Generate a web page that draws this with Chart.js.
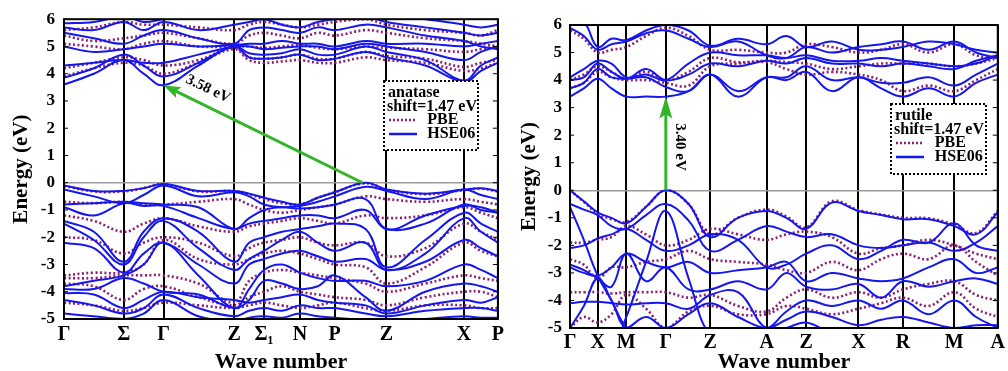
<!DOCTYPE html>
<html><head><meta charset="utf-8">
<script src="https://cdn.jsdelivr.net/npm/chart.js@4.4.1/dist/chart.umd.min.js"></script>
<style>
html,body{margin:0;padding:0;background:#fff;}
body{width:1008px;height:371px;overflow:hidden;position:relative;}
canvas{position:absolute;top:0;}
</style></head><body>
<canvas id="c1" width="508" height="371" style="left:0"></canvas>
<canvas id="c2" width="500" height="371" style="left:508px"></canvas>
<script>
// ---------------- Anatase ----------------
const anataseK = [0,30,60,80,100,135,171,186,201,219,237,255,272,303,324,363,402,419,436];
const anataseTickK = [0,60,100,171,201,237,272,324,402,436];
const anataseTickLabels = ['Γ','Σ','Γ','Z','Σ₁','N','P','Z','X','P'];
const anataseHSE = [
 [-0.10,-0.30,-0.30,-0.20,-0.05,-0.30,-0.30,-0.40,-0.55,-0.70,-0.80,-0.55,-0.35, 0.00,-0.25,-0.40,-0.25,-0.20,-0.30],
 [-0.25,-0.50,-0.75,-0.45,-0.10,-0.50,-0.35,-0.50,-0.80,-0.90,-0.85,-0.70,-0.50,-0.15,-0.30,-0.60,-0.25,-0.45,-0.60],
 [-0.80,-0.75,-0.70,-0.75,-0.80,-0.90,-1.70,-1.30,-1.00,-0.90,-0.95,-0.90,-0.80,-0.60,-1.70,-1.20,-0.85,-0.90,-1.10],
 [-0.90,-1.20,-0.75,-0.85,-0.85,-1.30,-1.70,-1.50,-1.40,-1.30,-1.20,-1.20,-1.30,-1.00,-1.70,-1.50,-0.80,-1.00,-1.10],
 [-1.40,-1.80,-2.90,-1.80,-1.30,-1.80,-2.90,-2.20,-2.00,-1.80,-1.70,-1.60,-1.50,-1.70,-3.10,-2.10,-1.10,-1.50,-1.80],
 [-1.50,-2.10,-3.00,-2.00,-1.40,-2.40,-3.20,-2.80,-2.50,-2.10,-1.80,-2.20,-2.50,-2.20,-3.20,-2.60,-1.30,-1.80,-2.20],
 [-2.20,-2.40,-3.30,-2.60,-2.20,-3.00,-3.70,-3.00,-2.80,-2.60,-2.50,-2.70,-2.90,-2.80,-3.20,-2.90,-2.10,-2.40,-2.70],
 [-3.80,-3.60,-3.40,-3.00,-2.20,-3.40,-4.60,-3.90,-3.20,-3.00,-3.30,-3.50,-3.60,-3.60,-3.80,-3.60,-3.00,-3.20,-3.50],
 [-3.90,-3.90,-3.50,-3.70,-4.00,-4.10,-4.60,-4.30,-3.60,-3.70,-3.90,-3.80,-3.40,-4.20,-4.70,-4.00,-3.70,-3.80,-4.00],
 [-4.05,-4.10,-4.60,-4.30,-4.00,-4.20,-4.30,-4.40,-4.30,-4.20,-4.10,-4.30,-4.40,-4.50,-4.80,-4.50,-4.30,-4.40,-4.20],
 [-4.30,-4.50,-4.80,-4.60,-4.10,-4.60,-4.90,-4.70,-4.60,-4.70,-4.50,-4.60,-4.60,-4.80,-4.90,-4.70,-4.60,-4.60,-4.70],
 [-4.80,-4.90,-5.00,-4.80,-4.30,-4.90,-5.10,-4.95,-4.90,-4.95,-4.80,-4.90,-4.95,-5.05,-5.10,-5.00,-4.90,-4.95,-4.95],
 [3.60,4.00,4.50,4.00,3.58,4.30,5.00,4.60,4.55,4.60,4.70,4.50,4.55,4.80,4.60,4.30,3.70,4.10,4.40],
 [3.85,4.20,4.70,4.30,3.90,4.40,5.00,4.75,4.70,4.75,4.90,4.70,4.70,5.00,4.80,4.50,3.75,4.30,4.60],
 [4.30,4.40,4.50,4.40,4.40,4.70,5.00,5.00,4.90,4.95,5.00,5.00,4.90,5.10,5.00,4.80,4.50,4.80,5.00],
 [5.00,4.80,4.90,5.00,5.10,5.00,5.05,5.10,5.10,5.20,5.10,5.10,5.00,5.20,5.10,5.10,5.00,5.10,5.20],
 [5.50,5.30,5.10,5.40,5.60,5.30,5.10,5.60,5.70,5.60,5.50,5.70,5.60,5.80,5.70,5.40,5.20,5.00,4.90],
 [5.70,5.60,5.90,5.60,5.90,5.60,5.80,5.90,6.00,5.80,5.70,5.90,6.00,6.10,5.90,5.70,5.50,5.40,5.50],
 [5.85,5.90,6.10,5.90,6.00,6.10,6.20,6.10,6.20,6.10,6.00,6.10,6.20,6.20,6.10,6.00,5.80,5.70,5.80]
];
const anatasePBE = [
 [-0.12,-0.32,-0.32,-0.20,-0.05,-0.32,-0.30,-0.42,-0.60,-0.75,-0.80,-0.55,-0.35,-0.02,-0.25,-0.42,-0.27,-0.22,-0.32],
 [-0.70,-0.75,-0.70,-0.80,-0.80,-0.70,-0.60,-0.80,-1.00,-1.10,-1.00,-0.90,-0.80,-0.50,-0.60,-0.70,-0.60,-0.70,-0.80],
 [-1.20,-1.40,-1.80,-1.50,-1.30,-1.60,-1.80,-1.60,-1.50,-1.40,-1.30,-1.40,-1.50,-1.20,-1.30,-1.20,-0.90,-1.10,-1.30],
 [-2.00,-2.10,-2.60,-2.20,-2.00,-2.20,-2.70,-2.40,-2.20,-2.10,-2.00,-2.20,-2.30,-2.20,-2.70,-2.40,-1.50,-1.80,-2.10],
 [-3.40,-3.30,-3.30,-3.00,-2.10,-2.80,-3.00,-2.80,-2.60,-2.50,-2.60,-2.80,-3.00,-3.10,-3.70,-3.10,-2.20,-2.50,-2.70],
 [-3.50,-3.50,-3.40,-3.40,-3.40,-3.70,-4.40,-3.60,-3.30,-3.20,-3.30,-3.40,-3.50,-3.70,-4.00,-3.70,-3.40,-3.50,-3.60],
 [-3.70,-3.80,-4.30,-3.90,-3.80,-4.20,-4.50,-4.20,-4.00,-3.80,-4.00,-4.10,-4.20,-4.30,-4.50,-4.20,-4.00,-4.00,-4.20],
 [-4.40,-4.50,-4.70,-4.60,-4.40,-4.50,-4.60,-4.50,-4.40,-4.50,-4.60,-4.50,-4.40,-4.60,-4.70,-4.50,-4.50,-4.60,-4.60],
 [3.90,4.20,4.40,4.30,4.00,4.40,4.90,4.50,4.40,4.45,4.50,4.40,4.40,4.60,4.50,4.40,4.10,4.20,4.40],
 [4.20,4.40,4.60,4.50,4.30,4.50,4.95,4.60,4.55,4.60,4.70,4.55,4.55,4.80,4.65,4.55,4.25,4.40,4.50],
 [5.10,5.00,4.90,5.10,5.20,5.00,5.00,5.00,4.95,5.00,5.05,4.95,4.90,5.00,4.95,4.90,4.80,4.90,5.00],
 [5.40,5.20,5.30,5.40,5.50,5.30,5.10,5.40,5.50,5.40,5.30,5.50,5.40,5.60,5.50,5.30,5.20,5.10,5.00],
 [5.60,5.70,5.90,5.80,5.80,5.70,5.60,5.80,5.90,5.80,5.70,5.80,5.90,6.00,5.80,5.60,5.50,5.40,5.60]
];
const anataseArrowFrom = [300, 0.0];
const anataseArrowTo = [100, 3.58];
const anataseGapLabel = '3.58 eV';
const anataseLegendTitle = ['anatase','shift=1.47 eV'];

// ---------------- Rutile ----------------
const rutileK = [0,14,28,42,57,77,97,120,142,170,199,219,239,265,292,315,337,363,389,411,433];
const rutileTickK = [0,28,57,97,142,199,239,292,337,389,433];
const rutileTickLabels = ['Γ','X','M','Γ','Z','A','Z','X','R','M','A'];
const rutileHSE = [
 [0.00,-0.40,-0.80,-1.00,-1.20,-0.60,0.00,-0.50,-1.70,-1.00,-0.75,-1.00,-1.40,-0.45,-0.75,-0.90,-1.05,-1.05,-1.30,-1.60,-0.80],
 [-0.50,-0.70,-0.90,-1.30,-1.40,-0.90,-0.50,-1.10,-2.20,-1.80,-1.30,-1.50,-1.70,-1.60,-2.00,-2.10,-2.00,-1.90,-2.20,-1.90,-1.30],
 [-2.10,-2.00,-1.75,-1.60,-1.40,-1.80,-2.20,-2.00,-1.60,-1.80,-2.80,-2.70,-2.30,-2.00,-2.50,-2.20,-1.80,-1.90,-1.20,-2.00,-2.20],
 [-2.80,-3.00,-3.10,-2.80,-2.30,-2.60,-2.80,-2.60,-3.00,-2.90,-2.80,-2.60,-3.30,-3.00,-3.20,-3.30,-3.20,-2.80,-2.50,-3.00,-2.80],
 [-2.70,-2.90,-3.20,-3.50,-2.30,-3.30,-2.80,-3.60,-3.60,-3.30,-3.60,-3.00,-3.50,-3.60,-3.40,-3.90,-3.30,-3.50,-3.30,-3.20,-3.40],
 [-4.10,-4.05,-4.05,-4.10,-4.15,-4.10,-4.10,-4.30,-3.80,-3.70,-5.00,-4.40,-4.00,-4.20,-4.00,-4.30,-4.00,-4.50,-4.00,-4.60,-5.00],
 [-5.00,-4.20,-3.20,-4.00,-5.00,-4.60,-5.00,-4.50,-4.10,-4.60,-5.00,-4.70,-4.40,-4.60,-4.90,-4.70,-4.60,-4.80,-5.00,-4.90,-4.90],
 [-0.60,-1.80,-3.10,-4.00,-5.00,-5.60,-6.00,-6.00,-5.50,-5.40,-5.20,-5.00,-4.80,-5.20,-5.40,-5.00,-5.30,-5.40,-5.20,-5.30,-5.00],
 [-6.00,-6.00,-6.00,-5.80,-4.60,-2.60,-0.75,-3.20,-5.30,-5.80,-6.00,-6.00,-6.00,-6.00,-6.00,-6.00,-6.00,-6.00,-6.00,-6.00,-6.00],
 [3.40,3.70,4.05,3.70,3.40,3.40,3.40,3.60,4.20,3.40,4.10,4.00,4.30,3.60,4.10,3.70,3.40,3.70,3.40,3.90,4.20],
 [3.70,3.90,4.40,4.10,4.05,4.10,3.75,3.60,4.20,3.60,4.10,4.10,4.50,4.00,4.10,3.90,3.90,4.10,3.80,4.20,4.60],
 [4.00,4.10,4.60,4.30,4.05,4.40,4.00,4.20,4.60,4.50,4.70,4.60,4.80,4.60,4.60,4.50,4.60,4.50,4.40,4.70,4.90],
 [4.10,4.40,4.70,4.60,4.10,4.20,4.00,4.60,5.00,4.90,4.90,4.80,4.90,4.70,4.70,4.80,4.70,4.60,4.50,4.60,4.90],
 [5.90,5.60,5.10,5.30,5.40,5.70,5.80,5.50,5.20,5.40,4.90,4.80,5.20,5.00,5.20,5.30,5.40,5.10,5.40,5.00,4.80],
 [6.00,6.10,5.20,5.50,5.45,5.80,6.00,5.80,5.25,5.50,5.30,5.60,5.20,5.40,5.10,5.10,5.20,5.40,5.30,5.10,5.00]
];
const rutilePBE = [
 [0.00,-0.42,-0.85,-1.05,-1.15,-0.60,0.00,-0.50,-1.60,-1.00,-0.70,-0.95,-1.35,-0.40,-0.72,-0.88,-1.00,-1.02,-1.25,-1.55,-0.75],
 [-1.90,-1.90,-1.80,-1.70,-1.30,-1.60,-2.00,-1.80,-1.40,-1.60,-1.80,-1.60,-1.50,-1.70,-2.30,-2.10,-2.00,-1.80,-2.00,-2.30,-2.50],
 [-2.50,-2.70,-3.20,-2.80,-2.80,-2.60,-2.50,-2.20,-2.50,-2.60,-2.70,-2.90,-3.00,-2.60,-2.90,-2.50,-2.30,-2.50,-2.00,-2.60,-3.10],
 [-3.70,-3.70,-3.70,-3.75,-3.70,-3.70,-3.70,-3.90,-3.80,-4.20,-4.40,-3.90,-3.60,-3.90,-3.70,-3.90,-3.60,-3.40,-3.30,-3.80,-4.00],
 [-5.00,-4.60,-4.80,-4.50,-3.80,-4.30,-5.00,-4.40,-4.20,-4.50,-4.50,-4.20,-4.30,-4.50,-4.30,-4.10,-3.90,-4.20,-3.70,-4.30,-4.60],
 [3.70,3.90,4.30,4.10,4.00,4.00,3.90,3.80,4.50,4.60,4.65,4.40,4.20,4.30,4.20,4.00,3.60,3.80,3.60,4.00,4.40],
 [4.00,4.20,4.50,4.30,4.05,4.30,4.00,4.30,4.80,4.65,4.70,4.65,4.60,4.40,4.50,4.60,4.60,4.60,4.50,4.60,4.80],
 [5.80,5.50,5.00,5.10,5.20,5.60,5.90,5.60,5.10,5.10,5.00,5.00,5.30,5.20,5.00,5.10,5.30,5.00,5.30,4.90,4.80]
];
const rutileArrowFrom = [97, 0.0];
const rutileArrowTo = [97, 3.40];
const rutileGapLabel = '3.40 eV';
const rutileLegendTitle = ['rutile','shift=1.47 eV'];

const energyTicks = [-5,-4,-3,-2,-1,0,1,2,3,4,5,6];
const legendLabels = ['PBE','HSE06'];

// ---------------- styling ----------------
const BLUE = '#1616ee', PURPLE = '#8a1f72', GREEN = '#33b52a';
const SERIF = '"Liberation Serif","Times New Roman",serif';

function bandSets(k, bands, style){
  return bands.map(b => Object.assign({data: b.map((v,i)=>({x:k[i], y:v}))}, style));
}
function drawArrow(ctx, x1,y1,x2,y2, len, w){
  const a = Math.atan2(y2-y1, x2-x1);
  const bx = x2 - Math.cos(a)*len*0.8, by = y2 - Math.sin(a)*len*0.8;
  ctx.strokeStyle = GREEN; ctx.fillStyle = GREEN; ctx.lineWidth = 3;
  ctx.beginPath(); ctx.moveTo(x1,y1); ctx.lineTo(bx,by); ctx.stroke();
  const px = -Math.sin(a), py = Math.cos(a);
  const hx = x2 - Math.cos(a)*len, hy = y2 - Math.sin(a)*len;
  ctx.beginPath(); ctx.moveTo(x2,y2);
  ctx.lineTo(hx + px*w/2, hy + py*w/2);
  ctx.lineTo(bx, by);
  ctx.lineTo(hx - px*w/2, hy - py*w/2);
  ctx.closePath(); ctx.fill();
}

function makeChart(id, cfg){
  const overlay = {
    id:'overlay',
    afterDraw(chart){
      const {ctx, chartArea:a, scales:{x,y}} = chart;
      ctx.save();
      ctx.strokeStyle = '#000'; ctx.lineWidth = 2; ctx.setLineDash([]);
      ctx.strokeRect(a.left, a.top, a.right-a.left, a.bottom-a.top);
      ctx.lineWidth = 1;
      energyTicks.forEach(v=>{
        const py = y.getPixelForValue(v);
        ctx.beginPath(); ctx.moveTo(a.right, py); ctx.lineTo(a.right-5, py);
        ctx.moveTo(a.left, py); ctx.lineTo(a.left+4, py); ctx.stroke();
      });
      const x1 = x.getPixelForValue(cfg.arrowFrom[0]), y1 = y.getPixelForValue(cfg.arrowFrom[1]);
      const x2 = x.getPixelForValue(cfg.arrowTo[0]), y2 = y.getPixelForValue(cfg.arrowTo[1]);
      drawArrow(ctx, x1,y1,x2,y2, cfg.headLen, cfg.headW);
      ctx.fillStyle = '#000';
      ctx.font = 'bold 15px ' + SERIF;
      ctx.textAlign = 'center'; ctx.textBaseline = 'middle';
      ctx.save();
      ctx.translate(cfg.labelPos[0], cfg.labelPos[1]);
      ctx.rotate(cfg.labelRot);
      ctx.fillText(cfg.gapLabel, 0, 0);
      ctx.restore();
      const L = cfg.legend;
      ctx.fillStyle = '#fff';
      ctx.fillRect(L.x, L.y, L.w, L.h);
      ctx.strokeStyle = '#000'; ctx.lineWidth = 2; ctx.setLineDash([2,2]);
      ctx.strokeRect(L.x, L.y, L.w, L.h);
      ctx.setLineDash([]);
      ctx.fillStyle = '#000'; ctx.textAlign = 'left';
      ctx.font = 'bold 16px ' + SERIF;
      ctx.fillText(cfg.legendTitle[0], L.x+4, L.y+12);
      ctx.fillText(cfg.legendTitle[1], L.x+3, L.y+26);
      ctx.fillText(legendLabels[0], L.x+L.w*0.46, L.y+39);
      ctx.fillText(legendLabels[1], L.x+L.w*0.46, L.y+53);
      ctx.lineWidth = 2.5; ctx.strokeStyle = PURPLE; ctx.setLineDash([2,2]);
      ctx.beginPath(); ctx.moveTo(L.x+5, L.y+39); ctx.lineTo(L.x+33, L.y+39); ctx.stroke();
      ctx.setLineDash([]); ctx.strokeStyle = BLUE; ctx.lineWidth = 2.5;
      ctx.beginPath(); ctx.moveTo(L.x+5, L.y+53); ctx.lineTo(L.x+33, L.y+53); ctx.stroke();
      ctx.fillStyle = '#000'; ctx.textAlign = 'center'; ctx.textBaseline = 'middle';
      ctx.font = 'bold 22px ' + SERIF;
      ctx.fillText('Wave number', (a.left+a.right)/2, 362);
      ctx.save();
      ctx.translate(22, (a.top+a.bottom)/2);
      ctx.rotate(-Math.PI/2);
      ctx.font = 'bold 21px ' + SERIF;
      ctx.fillText('Energy (eV)', 0, 0);
      ctx.restore();
      ctx.restore();
    }
  };
  return new Chart(document.getElementById(id), {
    type:'line',
    data:{ datasets: [
      ...bandSets(cfg.k, cfg.hse, {borderColor:BLUE, borderWidth:2, pointRadius:0, tension:0.4, fill:false}),
      ...bandSets(cfg.k, cfg.pbe, {borderColor:PURPLE, borderWidth:2.6, borderDash:[2,2.5], pointRadius:0, tension:0.4, fill:false})
    ]},
    options:{
      responsive:false, animation:false, events:[],
      layout:{padding:{top:cfg.padTop, right:cfg.padRight, left:0, bottom:0}},
      plugins:{legend:{display:false}, tooltip:{enabled:false}},
      scales:{
        x:{type:'linear', min:0, max:cfg.tickK[cfg.tickK.length-1],
          afterBuildTicks:s=>{ s.ticks = cfg.tickK.map(v=>({value:v})); },
          afterFit:s=>{ s.height = cfg.xH; },
          ticks:{autoSkip:false, maxRotation:0, minRotation:0, padding:cfg.xPad, color:'#000',
            font:{family:SERIF, size:20, weight:'bold'},
            callback:(v,i)=>cfg.tickLabels[i]},
          grid:{color:'#000', lineWidth:2, drawTicks:false},
          border:{display:false}},
        y:{type:'linear', min:-5, max:6,
          afterBuildTicks:s=>{ s.ticks = energyTicks.map(v=>({value:v})); },
          afterFit:s=>{ s.width = cfg.yW; },
          ticks:{padding:cfg.yPad, color:'#000', font:{family:SERIF, size:17, weight:'bold'},
            callback:v=>String(v)},
          grid:{color:c=>(c.tick && c.tick.value===0)?'#9a9a9a':'rgba(0,0,0,0)', lineWidth:1.5, drawTicks:false},
          border:{display:false}}
      }
    },
    plugins:[overlay]
  });
}

makeChart('c1', {
  k:anataseK, hse:anataseHSE, pbe:anatasePBE, tickK:anataseTickK, tickLabels:anataseTickLabels,
  padTop:16, padRight:8, xH:52, yW:64, xPad:4, yPad:9,
  arrowFrom:anataseArrowFrom, arrowTo:anataseArrowTo, headLen:17, headW:12,
  gapLabel:anataseGapLabel, labelPos:[208,89], labelRot:Math.atan2(96,198),
  legend:{x:384, y:81, w:94, h:69}, legendTitle:anataseLegendTitle
});
makeChart('c2', {
  k:rutileK, hse:rutileHSE, pbe:rutilePBE, tickK:rutileTickK, tickLabels:rutileTickLabels,
  padTop:25, padRight:5, xH:43, yW:62, xPad:3, yPad:8,
  arrowFrom:rutileArrowFrom, arrowTo:rutileArrowTo, headLen:22, headW:13,
  gapLabel:rutileGapLabel, labelPos:[172,147], labelRot:Math.PI/2,
  legend:{x:383, y:104, w:95, h:70}, legendTitle:rutileLegendTitle
});
</script>
</body></html>
